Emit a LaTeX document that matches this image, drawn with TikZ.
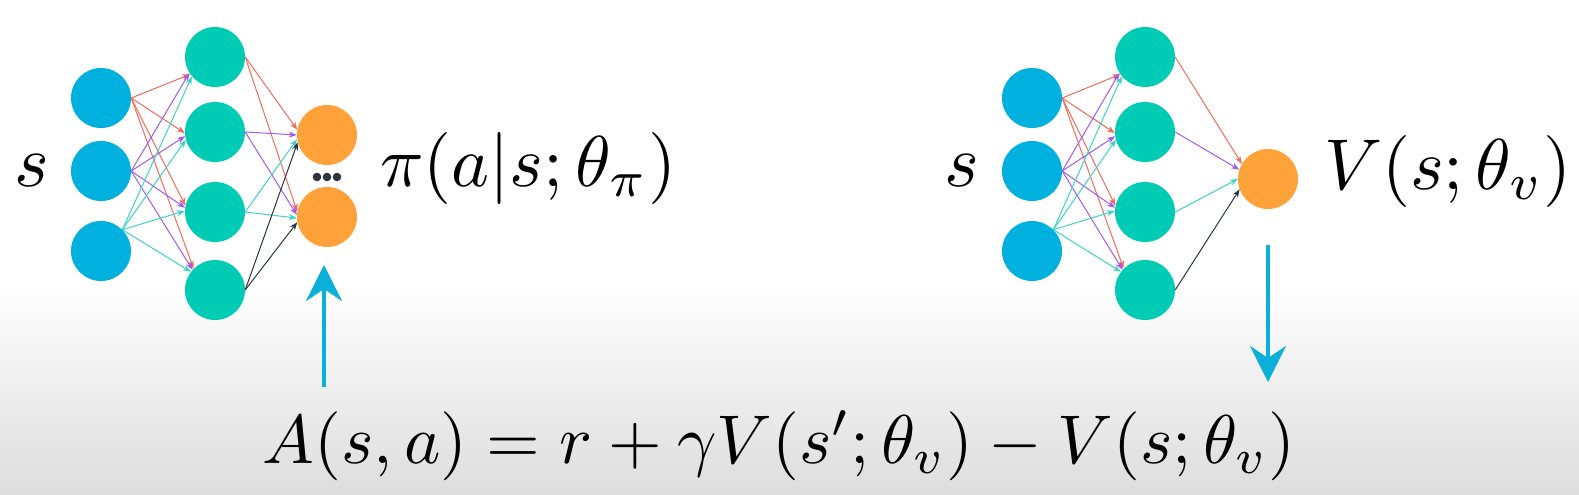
\documentclass[tikz,border=0pt]{standalone}
\usepackage{graphicx}
\usetikzlibrary{arrows.meta}
\definecolor{inblue}{HTML}{00B0DF}
\definecolor{hidteal}{HTML}{00CCB6}
\definecolor{outorange}{HTML}{FFA23A}
\definecolor{ered}{HTML}{F26B5B}
\definecolor{epurple}{HTML}{A45AF0}
\definecolor{ecyan}{HTML}{3DD3C6}
\definecolor{eblack}{HTML}{2E3440}
\definecolor{arrblue}{HTML}{0BB0D9}
\definecolor{bggray}{HTML}{DDDDDD}
\begin{document}
\begin{tikzpicture}[x=1pt,y=-1pt,
  neur/.style={circle,minimum size=60pt,inner sep=0pt},
  inn/.style={neur,fill=inblue},
  hid/.style={neur,fill=hidteal},
  outn/.style={neur,fill=outorange},
  ed/.style={-{Stealth[length=8pt,width=6pt]},line width=1pt},
  bigarrow/.style={draw=arrblue,line width=4pt,-{Stealth[length=36pt,width=36pt,inset=12pt]}},
  lab/.style={inner sep=0pt},
  formula/.style={inner sep=0pt}]
\useasboundingbox (0,0) rectangle (1579,495);
\fill[white] (0,0) rectangle (1579,495);
\shade[top color=white,bottom color=bggray] (0,285) rectangle (1579,495);

% ---------- left network ----------
\node[inn] (LI1) at (101,98) {};
\node[inn] (LI2) at (101,171) {};
\node[inn] (LI3) at (101,251) {};
\node[hid] (LH1) at (215,57) {};
\node[hid] (LH2) at (215,132) {};
\node[hid] (LH3) at (215,212) {};
\node[hid] (LH4) at (215,290) {};
\node[outn] (LO1) at (327,135) {};
\node[outn] (LO2) at (327,217) {};
\fill[eblack] (317,177) circle (4.3pt) (327,177) circle (4.3pt) (337,177) circle (4.3pt);

\draw[ed,ered] (LI1.east) -- (LH1.215);
\draw[ed,ered] (LI1.east) -- (LH2.182);
\draw[ed,ered] (LI1.east) -- (LH3.168);
\draw[ed,ered] (LI1.east) -- (LH4.135);
\draw[ed,epurple] (LI2.east) -- (LH1.212);
\draw[ed,epurple] (LI2.east) -- (LH2.188);
\draw[ed,epurple] (LI2.east) -- (LH3.172);
\draw[ed,epurple] (LI2.east) -- (LH4.138);
\draw[ed,ecyan] (LI3.45) -- (LH1.220);
\draw[ed,ecyan] (LI3.45) -- (LH2.195);
\draw[ed,ecyan] (LI3.45) -- (LH3.178);
\draw[ed,ecyan] (LI3.45) -- (LH4.143);

\draw[ed,ered] (LH1.east) -- (LO1.170);
\draw[ed,ered] (LH1.east) -- (LO2.170);
\draw[ed,epurple] (LH2.east) -- (LO1.180);
\draw[ed,epurple] (LH2.east) -- (LO2.176);
\draw[ed,ecyan] (LH3.east) -- (LO1.188);
\draw[ed,ecyan] (LH3.east) -- (LO2.182);
\draw[ed,eblack] (LH4.east) -- (LO1.194);
\draw[ed,eblack] (LH4.east) -- (LO2.190);

\node[lab,anchor=base] (Ls) at (32,186) {\scalebox{7.4}{$s$}};
\node[lab,anchor=base west] (Lpi) at (380,186) {\scalebox{7.2}{$\pi(a|s;\theta_\pi)$}};

% ---------- right network ----------
\node[inn] (RI1) at (1032,98) {};
\node[inn] (RI2) at (1032,171) {};
\node[inn] (RI3) at (1032,251) {};
\node[hid] (RH1) at (1145,57) {};
\node[hid] (RH2) at (1145,132) {};
\node[hid] (RH3) at (1145,212) {};
\node[hid] (RH4) at (1145,290) {};
\node[outn] (RO) at (1268,179) {};

\draw[ed,ered] (RI1.east) -- (RH1.215);
\draw[ed,ered] (RI1.east) -- (RH2.182);
\draw[ed,ered] (RI1.east) -- (RH3.168);
\draw[ed,ered] (RI1.east) -- (RH4.135);
\draw[ed,epurple] (RI2.east) -- (RH1.212);
\draw[ed,epurple] (RI2.east) -- (RH2.188);
\draw[ed,epurple] (RI2.east) -- (RH3.172);
\draw[ed,epurple] (RI2.east) -- (RH4.138);
\draw[ed,ecyan] (RI3.45) -- (RH1.220);
\draw[ed,ecyan] (RI3.45) -- (RH2.195);
\draw[ed,ecyan] (RI3.45) -- (RH3.178);
\draw[ed,ecyan] (RI3.45) -- (RH4.143);

\draw[ed,ered] (RH1.east) -- (RO.150);
\draw[ed,epurple] (RH2.east) -- (RO.162);
\draw[ed,ecyan] (RH3.east) -- (RO.180);
\draw[ed,eblack] (RH4.east) -- (RO.200);

\node[lab,anchor=base] (Rs) at (962,186) {\scalebox{7.4}{$s$}};
\node[lab,anchor=base west] (RV) at (1324,189) {\scalebox{7.2}{$V(s;\theta_v)$}};

% ---------- advantage ----------
\node[formula,anchor=base] (A) at (779,463) {\scalebox{6.9}{$A(s,a)=r+\gamma V(s';\theta_v)-V(s;\theta_v)$}};
\coordinate (upS) at (324,387);
\coordinate (upE) at (324,265);
\coordinate (dnS) at (1268,245);
\coordinate (dnE) at (1268,382);
\draw[bigarrow] (upS) -- (upE);
\draw[bigarrow] (dnS) -- (dnE);
\end{tikzpicture}
\end{document}
